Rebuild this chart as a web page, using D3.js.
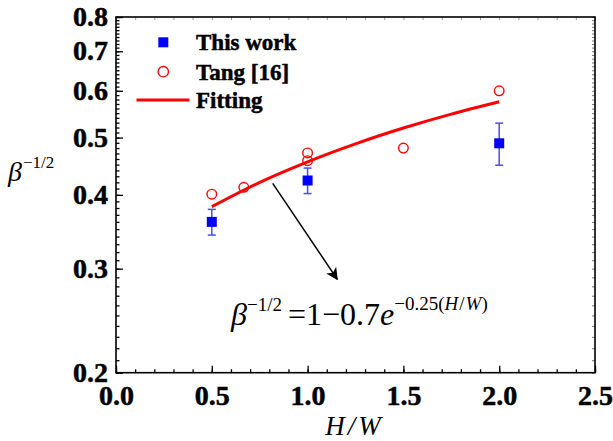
<!DOCTYPE html>
<html><head><meta charset="utf-8">
<script src="https://cdn.jsdelivr.net/npm/d3@7/dist/d3.min.js"></script>
<style>html,body{margin:0;padding:0;background:#fff;}svg{display:block;}</style>
</head><body>
<svg id="chart" width="613" height="441"></svg>
<script>
// ---- data ----
const xTicks = [0.0, 0.5, 1.0, 1.5, 2.0, 2.5];
const xTickLabels = ["0.0", "0.5", "1.0", "1.5", "2.0", "2.5"];
const yTicks = [0.2, 0.3, 0.4, 0.5, 0.6, 0.7, 0.8];
const yTickLabels = ["0.2", "0.3", "0.4", "0.5", "0.6", "0.7", "0.8"];

const thisWorkX = [0.5, 1.0, 2.0];
const thisWorkY = [0.360, 0.423, 0.489];
const thisWorkErr = [0.018, 0.021, 0.040];

const tangX = [0.5, 0.667, 1.0, 1.0, 1.5, 2.0];
const tangY = [0.401, 0.412, 0.471, 0.457, 0.480, 0.600];

const fitX = [0.5, 0.75, 1.0, 1.25, 1.5, 1.75, 2.0];
const fitY = [0.382, 0.420, 0.455, 0.488, 0.519, 0.548, 0.575];

const legendLabels = ["This work", "Tang [16]", "Fitting"];

// ---- layout ----
const svg = d3.select("#chart");
const L = 116, R = 595, T = 17, B = 372.7;
const x = d3.scaleLinear().domain([0, 2.5]).range([L, R]);
const y = d3.scaleLog().domain([0.2, 0.8]).range([B, T]);
const serif = '"Liberation Serif", "DejaVu Serif", serif';

const xMinor = d3.range(0, 2.5001, 0.1).map(v => +v.toFixed(2));
const yMinor = d3.range(0.2, 0.8001, 0.01).map(v => +v.toFixed(3));

function styleText(sel, size, bold, italic) {
  sel.style("font-family", serif).style("font-size", size + "px")
     .style("font-weight", bold ? "bold" : "normal").style("font-style", italic ? "italic" : "normal")
     .attr("fill", "#000");
  if (bold) sel.attr("stroke", "#000").attr("stroke-width", 0.5);
}

// bottom axis
const gx = svg.append("g").attr("transform", `translate(0,${B})`);
gx.call(d3.axisBottom(x).tickValues(xMinor).tickSize(-3.5).tickFormat(""));
gx.select(".domain").remove();
const gx2 = svg.append("g").attr("transform", `translate(0,${B})`);
gx2.call(d3.axisBottom(x).tickValues(xTicks).tickSize(-7).tickFormat((d, i) => xTickLabels[i]));
gx2.select(".domain").remove();
gx2.selectAll("text").call(styleText, 28, true, false).attr("dy", "0.71em").attr("y", 12);
[gx, gx2].forEach(g => g.selectAll("line").attr("stroke", "#000").attr("stroke-width", 1.3));

// left axis
const gy = svg.append("g").attr("transform", `translate(${L},0)`);
gy.call(d3.axisLeft(y).tickValues(yMinor).tickSize(-3.5).tickFormat(""));
gy.select(".domain").remove();
const gy2 = svg.append("g").attr("transform", `translate(${L},0)`);
gy2.call(d3.axisLeft(y).tickValues(yTicks).tickSize(-7).tickFormat((d, i) => yTickLabels[i]));
gy2.select(".domain").remove();
gy2.selectAll("text").call(styleText, 28, true, false).attr("x", -8).attr("dy", "0.3em");
[gy, gy2].forEach(g => g.selectAll("line").attr("stroke", "#000").attr("stroke-width", 1.3));

// top & right mirrored faint ticks
const gt = svg.append("g").attr("transform", `translate(0,${T})`);
gt.call(d3.axisTop(x).tickValues(xMinor).tickSize(-3).tickFormat(""));
gt.select(".domain").remove();
gt.selectAll("line").attr("stroke", "#999").attr("stroke-width", 1);
const gr = svg.append("g").attr("transform", `translate(${R},0)`);
gr.call(d3.axisRight(y).tickValues(yMinor).tickSize(-3).tickFormat(""));
gr.select(".domain").remove();
gr.selectAll("line").attr("stroke", "#777").attr("stroke-width", 1);

// frame
svg.append("rect").attr("x", L).attr("y", T).attr("width", R - L).attr("height", B - T)
  .attr("fill", "none").attr("stroke", "#000").attr("stroke-width", 1.6);

// fit line
const line = d3.line().x(d => x(d[0])).y(d => y(d[1])).curve(d3.curveMonotoneX);
svg.append("path").datum(fitX.map((v, i) => [v, fitY[i]]))
  .attr("d", line).attr("fill", "none").attr("stroke", "#ff0000").attr("stroke-width", 3);

// tang circles
svg.selectAll("circle.tang").data(tangX.map((v, i) => [v, tangY[i]])).enter()
  .append("circle").attr("class", "tang")
  .attr("cx", d => x(d[0])).attr("cy", d => y(d[1])).attr("r", 4.8)
  .attr("fill", "none").attr("stroke", "#ff0000").attr("stroke-width", 1.4);

// this work error bars
const tw = thisWorkX.map((v, i) => ({ x: v, y: thisWorkY[i], e: thisWorkErr[i] }));
const eb = svg.append("g").attr("stroke", "#4a4aff").attr("stroke-width", 1.5);
tw.forEach(d => {
  const cx = x(d.x), y1 = y(d.y + d.e), y2 = y(d.y - d.e);
  eb.append("line").attr("x1", cx).attr("x2", cx).attr("y1", y1).attr("y2", y2);
  eb.append("line").attr("x1", cx - 4).attr("x2", cx + 4).attr("y1", y1).attr("y2", y1);
  eb.append("line").attr("x1", cx - 4).attr("x2", cx + 4).attr("y1", y2).attr("y2", y2);
});
svg.selectAll("rect.tw").data(tw).enter().append("rect").attr("class", "tw")
  .attr("x", d => x(d.x) - 5).attr("y", d => y(d.y) - 5).attr("width", 10).attr("height", 10)
  .attr("fill", "#0000ff");

// legend
svg.append("rect").attr("x", 158.3).attr("y", 37.3).attr("width", 10).attr("height", 10).attr("fill", "#0000ff");
svg.append("circle").attr("cx", 163.3).attr("cy", 71.7).attr("r", 5.2).attr("fill", "none").attr("stroke", "#ff0000").attr("stroke-width", 1.4);
svg.append("line").attr("x1", 136.5).attr("x2", 189.5).attr("y1", 100).attr("y2", 100).attr("stroke", "#ff0000").attr("stroke-width", 3);
[50, 79.5, 108].forEach((by, i) => {
  svg.append("text").attr("x", 196).attr("y", by).text(legendLabels[i]).call(styleText, 23, true, false);
});

// arrow
svg.append("defs").append("marker").attr("id", "ah").attr("viewBox", "0 0 12 12")
  .attr("refX", 11).attr("refY", 6).attr("markerWidth", 12).attr("markerHeight", 12)
  .attr("markerUnits", "userSpaceOnUse").attr("orient", "auto")
  .append("path").attr("d", "M0,0 L12,6 L0,12 L3,6 Z").attr("fill", "#000");
svg.append("line").attr("x1", 272.7).attr("y1", 183.3).attr("x2", 337.3).attr("y2", 279.3)
  .attr("stroke", "#000").attr("stroke-width", 1.5).attr("marker-end", "url(#ah)");

// y axis label
const yl = svg.append("text").attr("x", 8).attr("y", 181).call(styleText, 28, false, false);
yl.append("tspan").text("β").style("font-style", "italic");
yl.append("tspan").text("−1/2").style("font-size", "17px").attr("dy", -13).attr("dx", 1);

// x axis label
const xl = svg.append("text").attr("x", 353).attr("y", 435).attr("text-anchor", "middle").call(styleText, 27, false, true);
xl.append("tspan").text("H");
xl.append("tspan").text("/").attr("dx", 3);
xl.append("tspan").text("W").attr("dx", 3);

// equation
const eq = svg.append("text").attr("x", 231).attr("y", 325).call(styleText, 32, false, false);
eq.append("tspan").text("β").style("font-style", "italic");
eq.append("tspan").text("−1/2").style("font-size", "19px").attr("dy", -14);
eq.append("tspan").text("=1−0.7").attr("dy", 14).attr("dx", 6);
eq.append("tspan").text("e").style("font-style", "italic");
eq.append("tspan").text("−0.25(").style("font-size", "19px").attr("dy", -15);
eq.append("tspan").text("H").style("font-size", "19px").style("font-style", "italic");
eq.append("tspan").text("/").style("font-size", "19px").attr("dx", 1);
eq.append("tspan").text("W").style("font-size", "19px").style("font-style", "italic").attr("dx", 1);
eq.append("tspan").text(")").style("font-size", "19px");
</script>
</body></html>
